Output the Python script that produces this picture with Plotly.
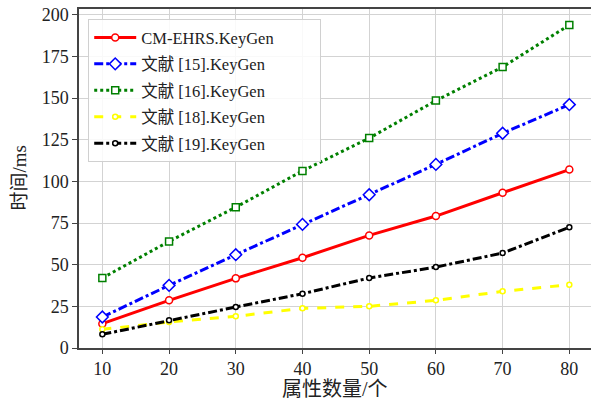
import plotly.graph_objects as go

x_vals = [10, 20, 30, 40, 50, 60, 70, 80]
cm_ehrs = [14.6, 28.6, 41.8, 54.2, 67.6, 79.2, 93.2, 107.1]
ref15 = [18.6, 37.6, 56.0, 74.2, 92.0, 110.2, 128.9, 146.1]
ref16 = [42.0, 64.0, 84.5, 106.3, 126.0, 148.5, 168.7, 193.9]
ref18 = [11.2, 15.6, 19.0, 23.8, 25.0, 28.6, 34.0, 38.0]
ref19 = [8.2, 16.6, 24.6, 32.6, 42.0, 48.6, 57.0, 72.5]
names = ["CM-EHRS.KeyGen", "文献 [15].KeyGen", "文献 [16].KeyGen", "文献 [18].KeyGen", "文献 [19].KeyGen"]
y_ticks = [0, 25, 50, 75, 100, 125, 150, 175, 200]
x_ticks = [10, 20, 30, 40, 50, 60, 70, 80]

FONT = "Liberation Serif, Times New Roman, Noto Sans CJK SC, serif"

series = [
    (cm_ehrs, "#ff0000", "solid", "circle", 7),
    (ref15, "#0000ff", "dashdot", "diamond", 9),
    (ref16, "#008000", "dot", "square", 7),
    (ref18, "#ffff00", "dash", "circle", 5),
    (ref19, "#000000", "dashdot", "circle", 5),
]

fig = go.Figure()
for i, ((vals, color, dash, sym, size), name) in enumerate(zip(series, names)):
    label = name + ("\u00a0" * 10 if i == 0 else "")  # pad legend box width
    fig.add_trace(go.Scatter(
        x=x_vals, y=vals, name=label, mode="lines+markers", legendgroup=f"g{i}",
        line=dict(color=color, width=3, dash=dash),
        marker=dict(symbol=sym, size=size, color="white", line=dict(color=color, width=1.5)),
    ))

fig.update_layout(
    width=591, height=401,
    margin=dict(l=79, r=0, t=9, b=53, autoexpand=False),
    paper_bgcolor="white", plot_bgcolor="white",
    font=dict(family=FONT, size=18, color="#222"),
    showlegend=True,
    legend=dict(
        x=0.018, y=0.97, xanchor="left", yanchor="top",
        bgcolor="rgba(255,255,255,0.85)", bordercolor="#d0d0d0", borderwidth=1,
        font=dict(family=FONT, size=16.5, color="#222"),
        tracegroupgap=2, itemwidth=42,
    ),
    annotations=[
        dict(text="属性数量/个", xref="paper", yref="paper", x=0.5, y=-0.121,
             xanchor="center", yanchor="middle", showarrow=False,
             font=dict(family=FONT, size=20, color="#222")),
        dict(text="时间/ms", xref="paper", yref="paper", x=-0.117, y=0.5,
             xanchor="center", yanchor="middle", showarrow=False, textangle=-90,
             font=dict(family=FONT, size=19, color="#222")),
    ],
)
fig.update_xaxes(
    range=[6.5, 83.25], tickvals=x_ticks, ticktext=[str(t) for t in x_ticks],
    showgrid=True, gridcolor="#d3d3d3", gridwidth=1,
    showline=True, linecolor="#444", linewidth=1.5, mirror=True,
    ticks="outside", ticklen=4, tickcolor="#444", automargin=False,
    tickfont=dict(family=FONT, size=18),
    zeroline=False,
)
fig.update_yaxes(
    range=[0, 203.5], tickvals=y_ticks, ticktext=[str(t) for t in y_ticks],
    showgrid=True, gridcolor="#d3d3d3", gridwidth=1,
    showline=True, linecolor="#444", linewidth=1.5,
    ticks="outside", ticklen=5, tickcolor="#444", automargin=False,
    tickfont=dict(family=FONT, size=18),
    zeroline=False,
)

fig.write_html("out.html", config={"displayModeBar": False},
               post_script="document.body.style.margin='0';")
